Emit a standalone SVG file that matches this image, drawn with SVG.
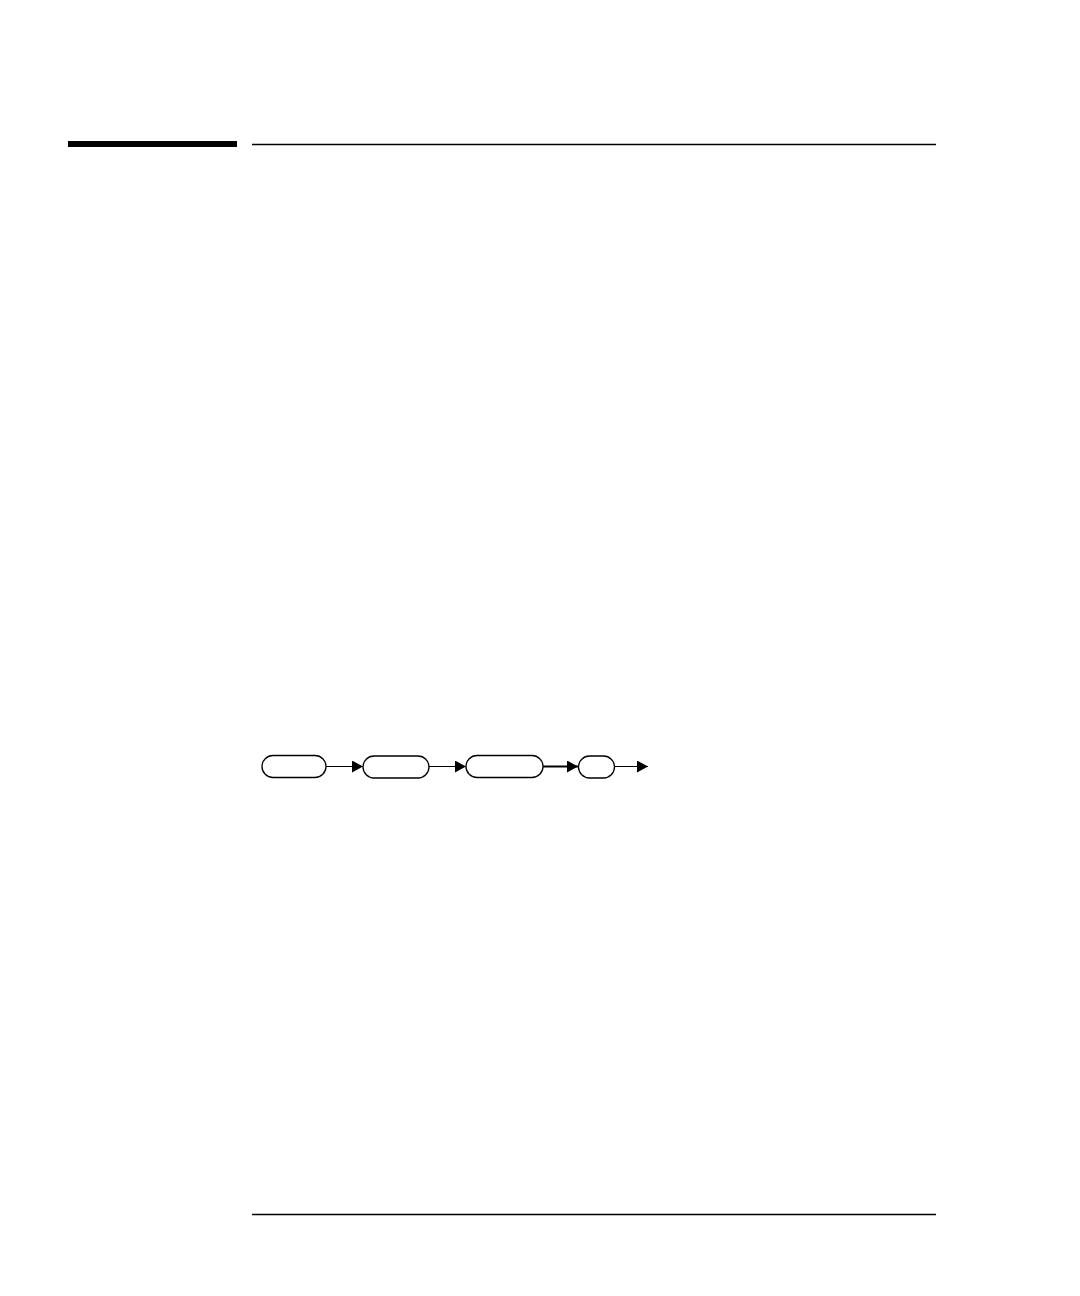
<svg xmlns="http://www.w3.org/2000/svg" width="1080" height="1296" viewBox="0 0 1080 1296">
<defs>
<style>
.node{fill:#fff;stroke:#000;stroke-width:1.3}
.edge{stroke:#000;stroke-width:1.2;fill:none}
.rule{stroke:#000;stroke-width:1.3}
</style>
<marker id="ah" markerWidth="11" markerHeight="12" refX="11" refY="6" orient="auto" markerUnits="userSpaceOnUse">
<path d="M0,0 L11,6 L0,12 Z" fill="#000"/>
</marker>
</defs>
<rect width="1080" height="1296" fill="#fff"/>
<rect x="68" y="141" width="169" height="6" fill="#000"/>
<line class="rule" x1="252" y1="144.5" x2="936" y2="144.5"/>
<line class="rule" x1="252" y1="1214.5" x2="936" y2="1214.5"/>
<g id="connectors">
<line class="edge" x1="326" y1="766.5" x2="363" y2="766.5" marker-end="url(#ah)"/>
<line class="edge" x1="429" y1="766.5" x2="466" y2="766.5" marker-end="url(#ah)"/>
<line class="edge" x1="543" y1="766.5" x2="578" y2="766.5" style="stroke-width:2" marker-end="url(#ah)"/>
<line class="edge" x1="614" y1="766.5" x2="648" y2="766.5" marker-end="url(#ah)"/>
</g>
<g id="n1"><rect class="node" x="262" y="755.5" width="64" height="22" rx="11"/></g>
<g id="n2"><rect class="node" x="363" y="756" width="66" height="22" rx="11"/></g>
<g id="n3"><rect class="node" x="466" y="755.5" width="77" height="22" rx="11"/></g>
<g id="n4"><rect class="node" x="578.5" y="756" width="36" height="22" rx="11"/></g>
</svg>
